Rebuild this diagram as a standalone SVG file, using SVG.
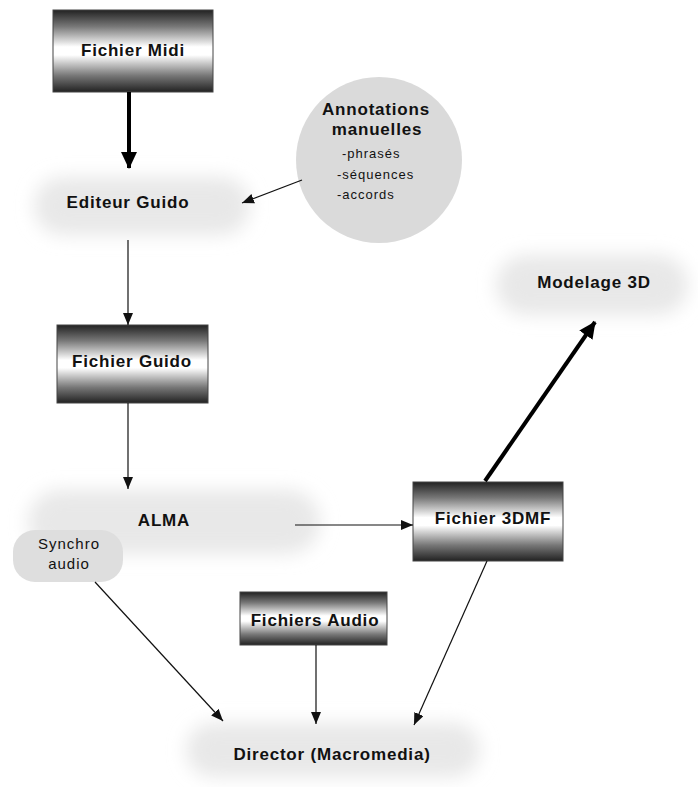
<svg xmlns="http://www.w3.org/2000/svg" width="698" height="787" viewBox="0 0 698 787">
<style>
.bt{font-family:"Liberation Sans",Arial,sans-serif;font-weight:bold;font-size:17px;letter-spacing:0.8px;fill:#111;text-anchor:middle}
.rt{font-family:"Liberation Sans",Arial,sans-serif;font-size:13px;letter-spacing:1px;fill:#111}
.st{font-family:"Liberation Sans",Arial,sans-serif;font-size:15px;letter-spacing:1px;fill:#111;text-anchor:middle}
.box{fill:url(#g);stroke:#444;stroke-width:1}
.blob{fill:#e8e8e8;filter:url(#bl)}
.thin{stroke:#111;stroke-width:1.2;fill:none;marker-end:url(#ah)}
.thick{stroke:#000;stroke-width:4;fill:none;marker-end:url(#ahk)}
</style>
<defs>
<linearGradient id="g" x1="0" y1="0" x2="0" y2="1">
<stop offset="0" stop-color="#222"/>
<stop offset="0.2" stop-color="#777"/>
<stop offset="0.45" stop-color="#fff"/>
<stop offset="0.55" stop-color="#fff"/>
<stop offset="0.8" stop-color="#777"/>
<stop offset="1" stop-color="#222"/>
</linearGradient>
<filter id="bl" x="-20%" y="-50%" width="140%" height="200%">
<feGaussianBlur stdDeviation="9"/>
</filter>
<marker id="ah" markerUnits="userSpaceOnUse" markerWidth="14" markerHeight="12" refX="12" refY="5" orient="auto">
<path d="M0,0 L12,5 L0,10 Z" fill="#111"/>
</marker>
<marker id="ahk" markerUnits="userSpaceOnUse" markerWidth="20" markerHeight="18" refX="16" refY="8" orient="auto">
<path d="M0,0 L17,8 L0,16 Z" fill="#000"/>
</marker>
</defs>
<rect width="698" height="787" fill="#fff"/>

<g id="editeur">
<rect class="blob" x="34" y="177" width="216" height="58" rx="29"/>
<text class="bt" x="128" y="208">Editeur Guido</text>
</g>
<g id="alma">
<rect class="blob" x="28" y="490" width="292" height="64" rx="32"/>
<text class="bt" x="164" y="526">ALMA</text>
</g>
<g id="modelage">
<rect class="blob" x="496" y="255" width="192" height="60" rx="30"/>
<text class="bt" x="594" y="288">Modelage 3D</text>
</g>
<g id="director">
<rect class="blob" x="186" y="723" width="294" height="54" rx="27"/>
<text class="bt" x="332" y="760">Director (Macromedia)</text>
</g>
<g id="synchro">
<rect x="13" y="530" width="110" height="52" rx="22" fill="#dedede"/>
<text class="st" x="69" y="549">Synchro</text>
<text class="st" x="69" y="569">audio</text>
</g>
<g id="annotations">
<circle cx="379" cy="160" r="83" fill="#dadada"/>
<text class="bt" x="376" y="115">Annotations</text>
<text class="bt" x="377" y="135">manuelles</text>
<text class="rt" x="342" y="158">-phrasés</text>
<text class="rt" x="337" y="179">-séquences</text>
<text class="rt" x="337" y="199">-accords</text>
</g>
<g id="midi">
<rect class="box" x="53" y="10" width="160" height="82"/>
<text class="bt" x="133" y="56">Fichier Midi</text>
</g>
<g id="guido">
<rect class="box" x="57" y="325" width="151" height="78"/>
<text class="bt" x="132" y="367">Fichier Guido</text>
</g>
<g id="f3dmf">
<rect class="box" x="413" y="482" width="150" height="79"/>
<text class="bt" x="493" y="524">Fichier 3DMF</text>
</g>
<g id="audio">
<rect class="box" x="240" y="592" width="147" height="53"/>
<text class="bt" x="315" y="626">Fichiers Audio</text>
</g>

<g id="connectors">
<line class="thick" x1="129" y1="92" x2="129" y2="168"/>
<line class="thin" x1="302" y1="180" x2="242" y2="203"/>
<line class="thin" x1="128" y1="240" x2="128" y2="325"/>
<line class="thin" x1="128" y1="403" x2="128" y2="489"/>
<line class="thin" x1="295" y1="525" x2="413" y2="525"/>
<line class="thick" x1="485" y1="481" x2="595" y2="322"/>
<line class="thin" x1="95" y1="582" x2="223" y2="721"/>
<line class="thin" x1="316" y1="645" x2="316" y2="724"/>
<line class="thin" x1="487" y1="561" x2="414" y2="725"/>
</g>
</svg>
